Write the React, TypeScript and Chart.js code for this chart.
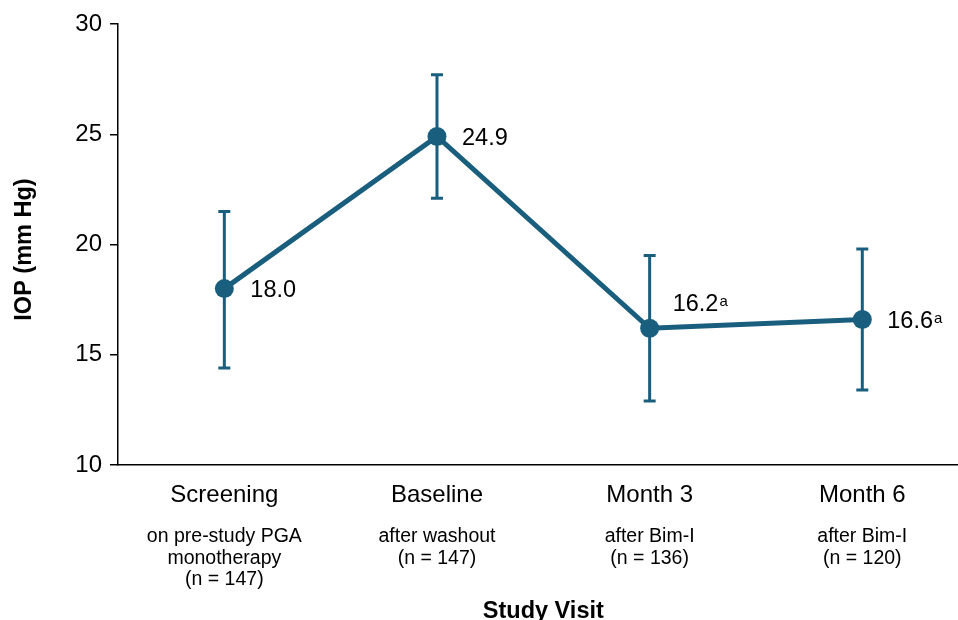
import React, { useEffect, useRef } from "react";
import { Chart, registerables } from "chart.js";

Chart.register(...registerables);

const categories = ["Screening", "Baseline", "Month 3", "Month 6"];
const subLabels = [
  ["on pre-study PGA", "monotherapy", "(n = 147)"],
  ["after washout", "(n = 147)"],
  ["after Bim-I", "(n = 136)"],
  ["after Bim-I", "(n = 120)"],
];
const meanIOP = [18.0, 24.9, 16.2, 16.6];
const errUpper = [21.5, 27.7, 19.5, 19.8];
const errLower = [14.4, 22.1, 12.9, 13.4];
const valueLabels = ["18.0", "24.9", "16.2", "16.6"];
const footnotes = ["", "", "a", "a"];
const yTicks = [10, 15, 20, 25, 30];

const COLOR = "#1a5e7e";
const FONT = "'Liberation Sans', Arial, Helvetica, sans-serif";

const annotate = {
  id: "annotate",
  beforeDatasetsDraw(chart: any) {
    const { ctx } = chart;
    const x = chart.scales.x;
    const y = chart.scales.y;
    ctx.save();
    ctx.strokeStyle = COLOR;
    ctx.lineWidth = 3;
    meanIOP.forEach((_, i) => {
      const px = x.getPixelForValue(i);
      const top = y.getPixelForValue(errUpper[i]);
      const bot = y.getPixelForValue(errLower[i]);
      ctx.beginPath();
      ctx.moveTo(px, top);
      ctx.lineTo(px, bot);
      ctx.moveTo(px - 6, top);
      ctx.lineTo(px + 6, top);
      ctx.moveTo(px - 6, bot);
      ctx.lineTo(px + 6, bot);
      ctx.stroke();
    });
    ctx.restore();
  },
  afterDraw(chart: any) {
    const { ctx, chartArea } = chart;
    const x = chart.scales.x;
    const y = chart.scales.y;
    ctx.save();
    ctx.fillStyle = "#000";
    ctx.textBaseline = "alphabetic";

    // value labels
    const place = [
      { dx: 26, dy: 0 },
      { dx: 25, dy: 0 },
      { dx: 23, dy: -26 },
      { dx: 25, dy: 0 },
    ];
    meanIOP.forEach((v, i) => {
      const px = x.getPixelForValue(i) + place[i].dx;
      const py = y.getPixelForValue(v) + place[i].dy + 8.4;
      ctx.font = `23.5px ${FONT}`;
      ctx.textAlign = "left";
      ctx.fillText(valueLabels[i], px, py);
      if (footnotes[i]) {
        const w = ctx.measureText(valueLabels[i]).width;
        ctx.font = `15px ${FONT}`;
        ctx.fillText(footnotes[i], px + w + 1, py - 5);
      }
    });

    // x category labels
    ctx.textAlign = "center";
    categories.forEach((c, i) => {
      const px = x.getPixelForValue(i);
      ctx.font = `24px ${FONT}`;
      ctx.fillText(c, px, chartArea.bottom + 37);
      ctx.font = `19.5px ${FONT}`;
      subLabels[i].forEach((s, j) => {
        ctx.fillText(s, px, chartArea.bottom + 77 + j * 21.5);
      });
    });

    // x title
    ctx.font = `bold 23.5px ${FONT}`;
    ctx.fillText("Study Visit", x.getPixelForValue(1.5), chartArea.bottom + 153);

    // y title
    ctx.translate(25, (chartArea.top + chartArea.bottom) / 2 + 5);
    ctx.rotate(-Math.PI / 2);
    ctx.textBaseline = "middle";
    ctx.fillText("IOP (mm Hg)", 0, 0);
    ctx.restore();
  },
};

export default function App() {
  const ref = useRef<HTMLCanvasElement | null>(null);
  useEffect(() => {
    document.body.style.margin = "0";
    document.body.style.overflow = "hidden";
    const canvas = ref.current!;
    const chart = new Chart(canvas, {
      type: "line",
      data: {
        datasets: [
          {
            data: meanIOP.map((v, i) => ({ x: i, y: v })),
            borderColor: COLOR,
            backgroundColor: COLOR,
            borderWidth: 5,
            pointRadius: 9.5,
            pointBackgroundColor: COLOR,
            pointBorderWidth: 0,
            clip: false as any,
          },
        ],
      },
      options: {
        animation: false,
        responsive: false,
        devicePixelRatio: 1,
        layout: { autoPadding: false, padding: { top: 24, left: 0, right: 0, bottom: 0 } },
        plugins: { legend: { display: false }, tooltip: { enabled: false } },
        scales: {
          x: {
            type: "linear",
            min: -0.5,
            max: 3.45,
            ticks: { display: false },
            grid: { display: false },
            border: { display: true, color: "#000", width: 1.5 },
            afterFit: (s: any) => {
              s.height = 155;
            },
          },
          y: {
            min: 10,
            max: 30,
            afterBuildTicks: (s: any) => {
              s.ticks = yTicks.map((v) => ({ value: v }));
            },
            ticks: {
              font: { size: 24, family: FONT },
              color: "#000",
              padding: 8,
            },
            grid: {
              drawOnChartArea: false,
              drawTicks: true,
              tickLength: 8,
              color: "#000",
              lineWidth: 1.5,
            },
            border: { display: true, color: "#000", width: 1.5 },
            afterFit: (s: any) => {
              s.width = 118;
            },
          },
        },
      },
      plugins: [annotate],
    });
    return () => chart.destroy();
  }, []);
  return (
    <canvas
      ref={ref}
      width={958}
      height={620}
      style={{ display: "block", width: 958, height: 620 }}
    />
  );
}
